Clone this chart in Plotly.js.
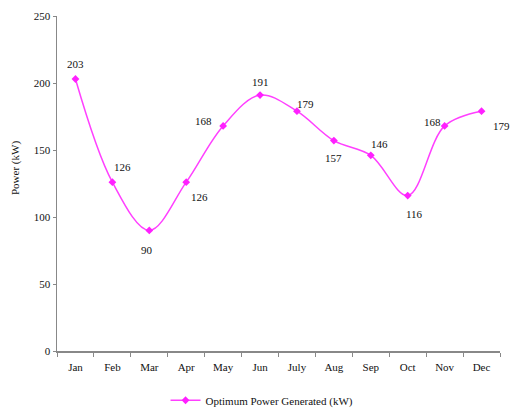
<!DOCTYPE html>
<html>
<head>
<meta charset="utf-8">
<script src="https://cdn.plot.ly/plotly-3.0.1.min.js"></script>
<style>html,body{margin:0;padding:0;background:#fff;}#chart{width:511px;height:409px;}</style>
</head>
<body>
<div id="chart"></div>
<script>
const months = ["Jan","Feb","Mar","Apr","May","Jun","July","Aug","Sep","Oct","Nov","Dec"];
const power = [203,126,90,126,168,191,179,157,146,116,168,179];
const yTicks = [0,50,100,150,200,250];
const yTitle = "Power (kW)";
const seriesName = "Optimum Power Generated (kW)";

// label offsets (pixels) for each data label
const labelDx = [0,10,-2,13,-20,0,9,0,9,7,-12,20];
const labelDy = [15,15,-20,-15,5,13,7,-17,11,-18,4,-15];

const font = "'Liberation Serif', 'Times New Roman', serif";

const annotations = months.map((m,i)=>({
  x: m, y: power[i], text: String(power[i]), showarrow:false,
  xshift: labelDx[i], yshift: labelDy[i],
  font:{family:font,size:11,color:"#111"}
}));
annotations.push({
  xref:"paper", yref:"paper", x:-0.095, y:0.546, xanchor:"center", yanchor:"middle",
  text:yTitle, textangle:-90,
  showarrow:false, font:{family:font,size:11,color:"#111"}
});

const trace = {
  x: months, y: power, type:"scatter", mode:"lines+markers",
  name: seriesName,
  line:{color:"#ff40ff", width:1.5, shape:"spline", smoothing:1},
  marker:{symbol:"diamond", size:6, color:"#ff20ff"}
};

const layout = {
  width:511, height:409,
  margin:{l:57, r:11, t:16, b:58, autoexpand:false},
  paper_bgcolor:"#fff", plot_bgcolor:"#fff",
  font:{family:font, size:11, color:"#111"},
  showlegend:true,
  legend:{orientation:"h", x:0.245, xanchor:"left", y:-0.147, yanchor:"middle",
          font:{family:font,size:11,color:"#111"}, bgcolor:"rgba(0,0,0,0)"},
  xaxis:{type:"category", tickson:"boundaries", ticks:"outside", ticklen:4,
         tickcolor:"#888", showline:true, linecolor:"#888", linewidth:1.5,
         showgrid:false, zeroline:false, range:[-0.5,11.5], fixedrange:true,
         ticklabelstandoff:5,
         tickfont:{family:font,size:11,color:"#111"}},
  yaxis:{range:[0,250], tickvals:yTicks, ticks:"outside", ticklen:3,
         tickcolor:"#888", showline:true, linecolor:"#888", linewidth:1.5,
         showgrid:false, zeroline:false,
         tickfont:{family:font,size:11,color:"#111"}},
  annotations: annotations
};

Plotly.newPlot("chart",[trace],layout,{displayModeBar:false, staticPlot:true});
</script>
</body>
</html>
